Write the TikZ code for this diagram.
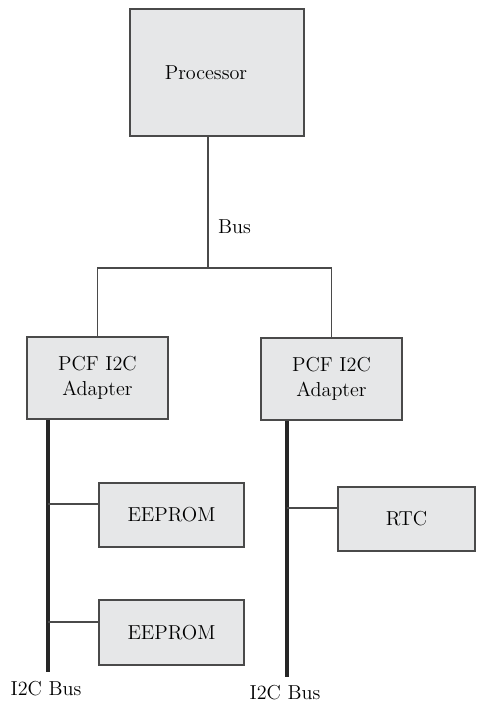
\documentclass[tikz,border=0pt]{standalone}
\usetikzlibrary{positioning}
\definecolor{boxfill}{HTML}{E6E7E8}
\definecolor{linegray}{HTML}{4A4A4A}
\tikzset{
    unit/.style={rectangle, draw=linegray, line width=0.8pt, fill=boxfill,
        align=center, inner sep=0pt, font=\fontsize{11.5}{14}\selectfont},
    wire/.style={draw=linegray, line width=0.6pt},
    i2cbus/.style={draw=black!85, line width=2.2pt},
    tag/.style={font=\fontsize{11.5}{14}\selectfont, inner sep=1pt}
}
\begin{document}
\begin{tikzpicture}
    \useasboundingbox (0,0) rectangle (9.52,14.08);

    % Processor and system bus
    \node[unit, minimum width=3.48cm, minimum height=2.54cm,
        label={[tag, xshift=-0.22cm]center:Processor}] (cpu) at (4.34, 12.63) {};
    \coordinate (fork) at (4.16, 8.72);
    \node[tag, anchor=west] (buslabel) at (4.32, 9.54) {Bus};

    % Draw the two adapters
    \node[unit, minimum width=2.82cm, minimum height=1.64cm] (adL) at (1.95, 6.52) {PCF I2C\\Adapter};
    \node[unit, minimum width=2.82cm, minimum height=1.64cm] (adR) at (6.63, 6.50) {PCF I2C\\Adapter};

    % Draw the devices
    \node[unit, minimum width=2.90cm, minimum height=1.28cm] (eeA) at (3.43, 3.78) {EEPROM};
    \node[unit, minimum width=2.90cm, minimum height=1.30cm] (eeB) at (3.43, 1.43) {EEPROM};
    \node[unit, minimum width=2.74cm, minimum height=1.28cm] (rtc) at (8.13, 3.70) {RTC};

    % Bus fork
    \draw[wire] (cpu.south -| fork) -- (fork);
    \draw[wire] (adL.north) |- (fork) -| (adR.north);

    % I2C buses
    \coordinate (busL) at (0.96, 0.64);
    \coordinate (busR) at (5.74, 0.54);
    \draw[i2cbus] (adL.south -| busL) -- (busL);
    \draw[i2cbus] (adR.south -| busR) -- (busR);
    \node[tag] (labL) at (0.92, 0.30) {I2C Bus};
    \node[tag] (labR) at (5.70, 0.22) {I2C Bus};

    % Device taps
    \draw[wire] ([yshift=0.22cm]eeA.west -| busL) -- ([yshift=0.22cm]eeA.west);
    \draw[wire] ([yshift=0.21cm]eeB.west -| busL) -- ([yshift=0.21cm]eeB.west);
    \draw[wire] ([yshift=0.22cm]rtc.west -| busR) -- ([yshift=0.22cm]rtc.west);
\end{tikzpicture}
\end{document}
